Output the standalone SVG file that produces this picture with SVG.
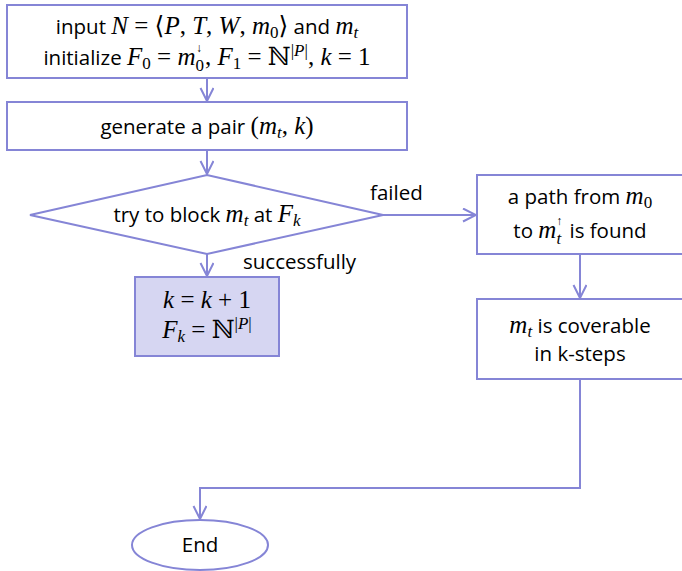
<svg xmlns="http://www.w3.org/2000/svg" width="682" height="571" viewBox="0 0 682 571">
  <defs>
    <style>
      .box { fill: #ffffff; stroke: #8585d6; stroke-width: 2; }
      .hl { fill: #d6d6f2; }
      .edge { fill: none; stroke: #8585d6; stroke-width: 2; }
      .t { font-family: "Open Sans", "Noto Sans", sans-serif; font-size: 20.5px; fill: #000; text-anchor: middle; }
      .lbl { font-family: "Open Sans", "Noto Sans", sans-serif; font-size: 20.5px; fill: #000; }
      .m { font-family: "Liberation Serif", "DejaVu Serif", serif; font-style: italic; font-size: 25px; }
      .r { font-family: "Liberation Serif", "DejaVu Serif", serif; font-style: normal; font-size: 25px; }
      .s { font-family: "Liberation Serif", "DejaVu Serif", serif; font-size: 17px; }
      .si { font-family: "Liberation Serif", "DejaVu Serif", serif; font-style: italic; font-size: 17px; }
      .ss { font-family: "Liberation Serif", "DejaVu Serif", serif; font-size: 12px; fill: #000; }
    </style>
    <marker id="arrow" markerUnits="userSpaceOnUse" markerWidth="16" markerHeight="16" refX="14" refY="7" orient="auto">
      <path d="M1,0.5 L14,7 L1,13.5" fill="none" stroke="#8585d6" stroke-width="2"/>
    </marker>
  </defs>

  <!-- connectors -->
  <g id="connectors">
    <path class="edge" d="M207,78 V101" marker-end="url(#arrow)"/>
    <path class="edge" d="M207,150 V174" marker-end="url(#arrow)"/>
    <path class="edge" d="M207,254 V276" marker-end="url(#arrow)"/>
    <path class="edge" d="M383,215 H476" marker-end="url(#arrow)"/>
    <path class="edge" d="M580,254 V298" marker-end="url(#arrow)"/>
    <path class="edge" d="M580,379 V488 H200 V519" marker-end="url(#arrow)"/>
    <text class="lbl" x="370" y="200">failed</text>
    <text class="lbl" x="243" y="269">successfully</text>
  </g>

  <!-- input / initialize -->
  <g id="init">
    <rect class="box" x="7" y="5" width="400" height="73"/>
    <text class="t" x="207" y="34">input <tspan class="m">N</tspan><tspan class="r"> = ⟨</tspan><tspan class="m">P</tspan><tspan class="r">, </tspan><tspan class="m">T</tspan><tspan class="r">, </tspan><tspan class="m">W</tspan><tspan class="r">, </tspan><tspan class="m">m</tspan><tspan class="s" dy="4">0</tspan><tspan class="r" dy="-4">⟩</tspan> and <tspan class="m">m</tspan><tspan class="si" dy="4">t</tspan></text>
    <text class="t" x="207" y="65">initialize <tspan class="m">F</tspan><tspan class="s" dy="4">0</tspan><tspan class="r" dy="-4"> = </tspan><tspan class="m">m</tspan><tspan class="s" dy="6">0</tspan><tspan class="ss" dx="-8" dy="-19">↓</tspan><tspan class="r" dx="3" dy="13">, </tspan><tspan class="m">F</tspan><tspan class="s" dy="4">1</tspan><tspan class="r" dy="-4"> = ℕ</tspan><tspan class="s" dy="-9">|</tspan><tspan class="si">P</tspan><tspan class="s">|</tspan><tspan class="r" dy="9">, </tspan><tspan class="m">k</tspan><tspan class="r"> = 1</tspan></text>
  </g>

  <!-- generate pair -->
  <g id="generate">
    <rect class="box" x="7" y="102" width="400" height="48"/>
    <text class="t" x="207" y="134">generate a pair <tspan class="r">(</tspan><tspan class="m">m</tspan><tspan class="si" dy="4">t</tspan><tspan class="r" dy="-4">, </tspan><tspan class="m">k</tspan><tspan class="r">)</tspan></text>
  </g>

  <!-- block decision -->
  <g id="block">
    <polygon class="box" points="30,215 207,175 383,215 207,254"/>
    <text class="t" x="207" y="222">try to block <tspan class="m">m</tspan><tspan class="si" dy="4">t</tspan><tspan dy="-4"> at </tspan><tspan class="m">F</tspan><tspan class="si" dy="4">k</tspan></text>
  </g>

  <!-- increment k -->
  <g id="increment">
    <rect class="box hl" x="135" y="277" width="144" height="79"/>
    <text class="t" x="207" y="308"><tspan class="m">k</tspan><tspan class="r"> = </tspan><tspan class="m">k</tspan><tspan class="r"> + 1</tspan></text>
    <text class="t" x="207" y="338"><tspan class="m">F</tspan><tspan class="si" dy="4">k</tspan><tspan class="r" dy="-4"> = ℕ</tspan><tspan class="s" dy="-9">|</tspan><tspan class="si">P</tspan><tspan class="s">|</tspan></text>
  </g>

  <!-- path found -->
  <g id="found">
    <rect class="box" x="477" y="175" width="206" height="79"/>
    <text class="t" x="580" y="204">a path from <tspan class="m">m</tspan><tspan class="s" dy="4">0</tspan></text>
    <text class="t" x="580" y="238">to <tspan class="m">m</tspan><tspan class="si" dy="6">t</tspan><tspan class="ss" dx="-5" dy="-19">↑</tspan><tspan dx="2" dy="13"> is found</tspan></text>
  </g>

  <!-- coverable -->
  <g id="coverable">
    <rect class="box" x="477" y="299" width="206" height="80"/>
    <text class="t" x="580" y="333"><tspan class="m">m</tspan><tspan class="si" dy="4">t</tspan><tspan dy="-4"> is coverable</tspan></text>
    <text class="t" x="580" y="361">in k-steps</text>
  </g>

  <!-- end -->
  <g id="end">
    <ellipse class="box" cx="200" cy="545" rx="68" ry="25"/>
    <text class="t" x="200" y="552">End</text>
  </g>
</svg>
